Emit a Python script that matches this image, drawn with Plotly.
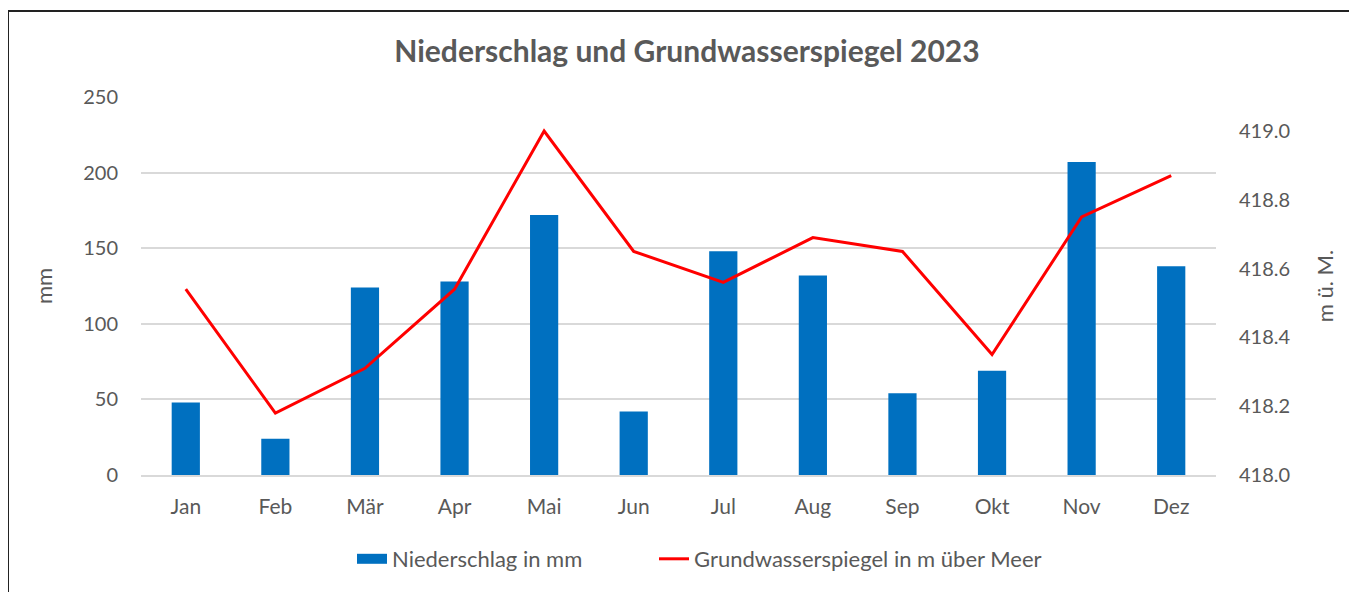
import plotly.graph_objects as go

# Daten
monate = ["Jan", "Feb", "Mär", "Apr", "Mai", "Jun", "Jul", "Aug", "Sep", "Okt", "Nov", "Dez"]
niederschlag_mm = [48, 24, 124, 128, 172, 42, 148, 132, 54, 69, 207, 138]
grundwasser_m = [418.54, 418.18, 418.31, 418.54, 419.00, 418.65, 418.56, 418.69, 418.65, 418.35, 418.75, 418.87]

# Seite hat 8px Rand -> Figur etwas kleiner
OFF = 8
W, H = 1357 - OFF, 592 - OFF
PL, PR, PT, PB = 141, 1216, 97, 475  # Plotfläche in Bildpixeln
L, R, T, B = PL - OFF, W - (PR - OFF), PT - OFF, H - (PB - OFF)
pw, ph = PR - PL, PB - PT

def px_x(x):
    return (x - PL) / pw

def px_y(y):
    return (PB - y) / ph

FONT = "Lato, 'Open Sans', sans-serif"
GRAU = "#595959"
BLAU = "#0070C0"
ROT = "#FF0000"

fig = go.Figure()
fig.add_trace(go.Bar(
    x=monate, y=niederschlag_mm, name="Niederschlag in mm",
    marker=dict(color=BLAU, line=dict(width=0)),
    yaxis="y", showlegend=False,
))
fig.add_trace(go.Scatter(
    x=monate, y=grundwasser_m, name="Grundwasserspiegel in m über Meer",
    mode="lines", line=dict(color=ROT, width=3),
    yaxis="y2", showlegend=False,
))
# Legendeneinträge im Excel-Stil (breites Rechteck / Linie)
fig.add_trace(go.Scatter(x=[None], y=[None], mode="lines", name="Niederschlag in mm",
                         line=dict(color=BLAU, width=16), legend="legend"))
fig.add_trace(go.Scatter(x=[None], y=[None], mode="lines", name="Grundwasserspiegel in m über Meer",
                         line=dict(color=ROT, width=3), legend="legend2"))

leg = dict(orientation="h", xanchor="left", y=px_y(559), yanchor="middle",
           font=dict(size=22, color=GRAU), itemwidth=30)

fig.update_layout(
    width=W, height=H,
    margin=dict(l=L, r=R, t=T, b=B),
    paper_bgcolor="white", plot_bgcolor="white",
    font=dict(family=FONT, size=20, color=GRAU),
    bargap=0.685,
    title=dict(text="<b>Niederschlag und Grundwasserspiegel 2023</b>",
               x=(687 - OFF) / W, xanchor="center", y=1 - (51 - OFF) / H, yanchor="middle",
               font=dict(size=30, color=GRAU)),
    xaxis=dict(showgrid=False, showline=True, linecolor="#d9d9d9", linewidth=1.5,
               ticks="", ticklabelstandoff=12, range=[-0.5, 11.5],
               tickfont=dict(size=21)),
    yaxis=dict(range=[0, 250], dtick=50, gridcolor="#d9d9d9", gridwidth=1.5,
               zeroline=False, showline=False, ticklabelstandoff=22,
               title=dict(text="mm", standoff=24, font=dict(size=22))),
    yaxis2=dict(overlaying="y", side="right", range=[418.0, 418.0 + 378 / 344],
                tick0=418.0, dtick=0.2, tickformat=".1f", showgrid=False,
                zeroline=False, showline=False, ticklabelstandoff=22,
                title=dict(text="m ü. M.", standoff=28, font=dict(size=22))),
    legend=dict(leg, x=px_x(352)),
    legend2=dict(leg, x=px_x(654)),
    showlegend=True,
)

# Rahmen (oben und links)
fig.add_shape(type="line", xref="paper", yref="paper",
              x0=px_x(8), x1=px_x(1400), y0=px_y(11), y1=px_y(11),
              line=dict(color="#222222", width=2))
fig.add_shape(type="line", xref="paper", yref="paper",
              x0=px_x(8), x1=px_x(8), y0=px_y(11), y1=px_y(620),
              line=dict(color="#222222", width=2))

fig.write_html("out.html")
